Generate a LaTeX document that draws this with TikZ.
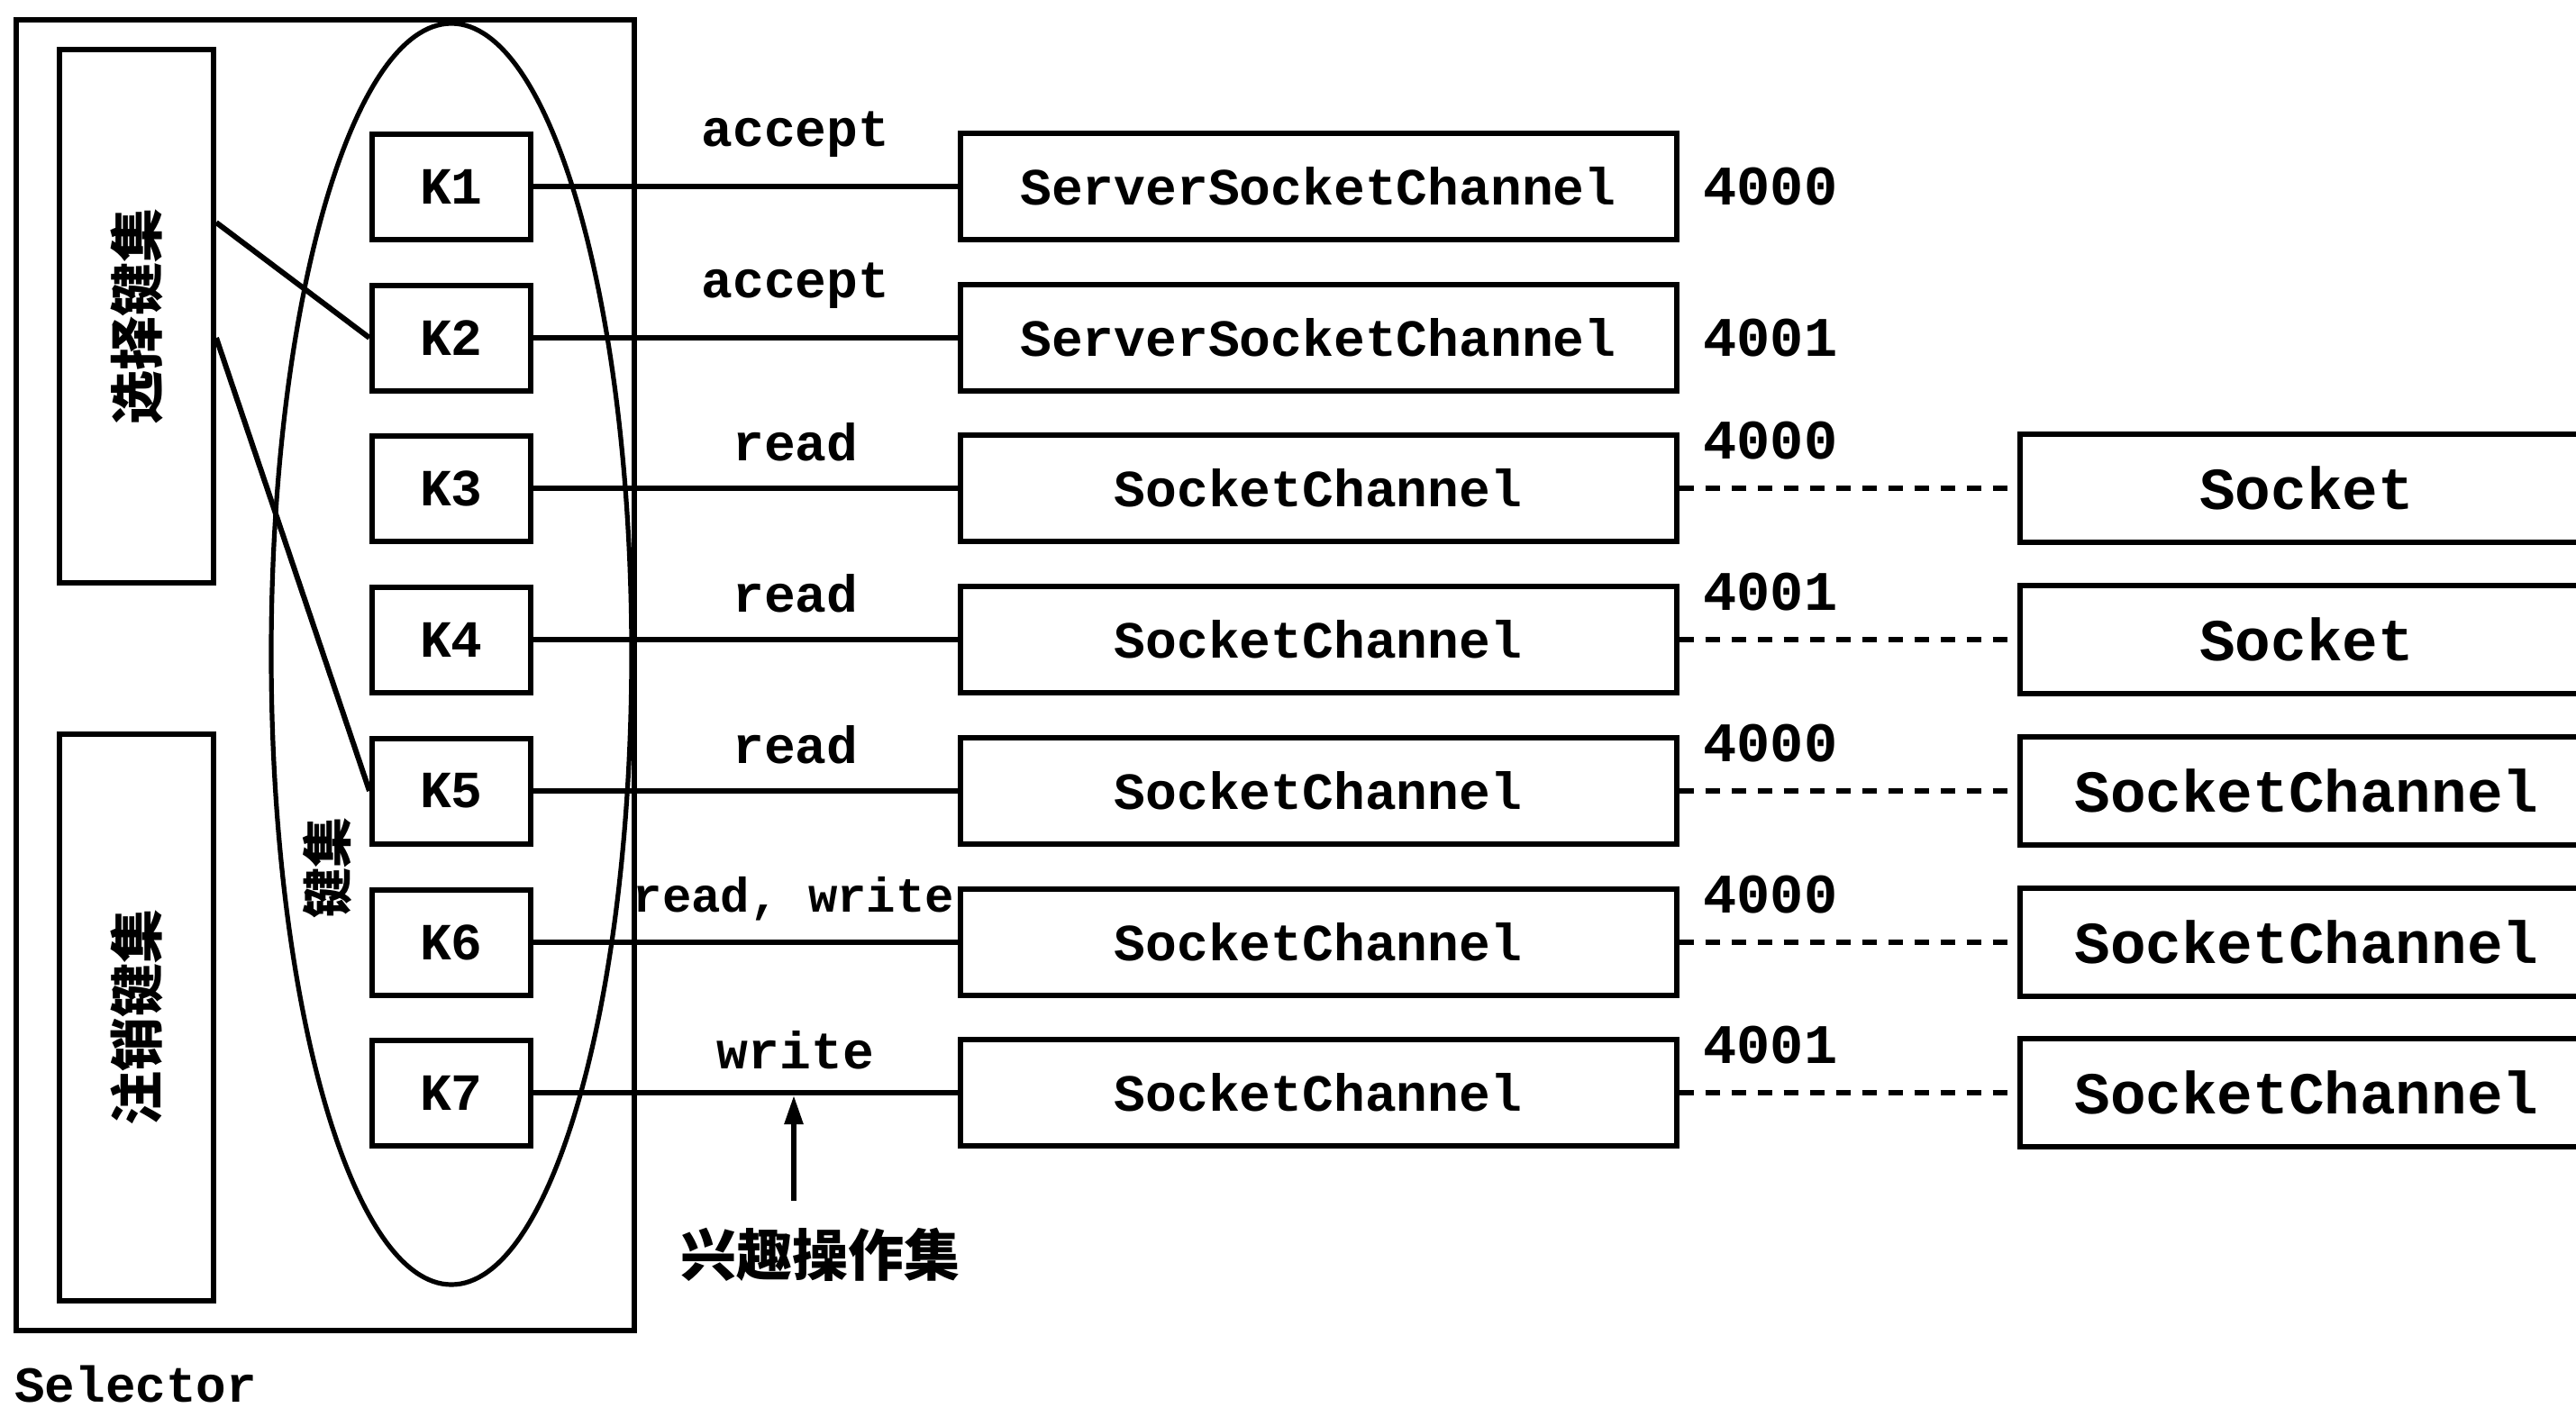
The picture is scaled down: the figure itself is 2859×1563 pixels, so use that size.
\documentclass[tikz,border=0pt]{standalone}
\usepackage{fontspec}
\usepackage{graphicx}
\setmonofont{Liberation Mono}
\newfontfamily\cjk{Noto Sans CJK SC}
\usetikzlibrary{shapes.geometric,arrows.meta}
\begin{document}
\begin{tikzpicture}[x=0.5pt,y=-0.5pt,
  box/.style={draw, line width=3pt, inner sep=0pt, font=\ttfamily\bfseries\fontsize{29}{29}\selectfont},
  kbox/.style={box, minimum width=88pt, minimum height=58.5pt},
  chbox/.style={box, minimum width=397.5pt, minimum height=59pt},
  rbox/.style={box, minimum width=318pt, minimum height=60pt, font=\ttfamily\bfseries\fontsize{33}{33}\selectfont},
  setbox/.style={box, minimum width=85.5pt, font=\cjk\bfseries\fontsize{30}{30}\selectfont},
  chanlink/.style={line width=2.8pt},
  dotlink/.style={line width=2.6pt, dash pattern=on 8pt off 6.5pt},
  oplab/.style={font=\ttfamily\bfseries\fontsize{29}{29}\selectfont, inner sep=0pt, anchor=base},
  portlab/.style={font=\ttfamily\bfseries\fontsize{31}{31}\selectfont, inner sep=0pt, anchor=base west},
]
\clip (0,0) rectangle (2859,1563);
\fill[white] (0,0) rectangle (2859,1563);

% Selector outer box and inner sets
\node[box, minimum width=343pt, minimum height=727.5pt] (sel) at (361,749.5) {};
\node[setbox, minimum height=296pt] (selset) at (151.5,351) {\rotatebox{90}{选择键集}};
\node[setbox, minimum height=314.5pt] (cancelset) at (151.5,1129.5) {\rotatebox{90}{注销键集}};
\node[ellipse, draw, line width=2.6pt, minimum width=200pt, minimum height=700pt, inner sep=0pt] (keyset) at (501,726) {};
\node[font=\cjk\bfseries\fontsize{28}{28}\selectfont, rotate=90, inner sep=0pt] (keylabel) at (363,963) {键集};
\node[font=\ttfamily\bfseries\fontsize{28}{28}\selectfont, anchor=base west, inner sep=0pt] (sellabel) at (16,1556) {Selector};

% Keys
\foreach \i/\y in {1/207,2/375,3/542,4/710,5/878,6/1046,7/1213}
  \node[kbox] (K\i) at (501,\y) {K\i};

% Channels
\node[chbox] (C1) at (1463,207) {ServerSocketChannel};
\node[chbox] (C2) at (1463,375) {ServerSocketChannel};
\node[chbox] (C3) at (1463,542) {SocketChannel};
\node[chbox] (C4) at (1463,710) {SocketChannel};
\node[chbox] (C5) at (1463,878) {SocketChannel};
\node[chbox] (C6) at (1463,1046) {SocketChannel};
\node[chbox] (C7) at (1463,1213) {SocketChannel};

% Right column
\node[rbox] (R3) at (2560,542) {Socket};
\node[rbox] (R4) at (2560,710) {Socket};
\node[rbox] (R5) at (2560,878) {SocketChannel};
\node[rbox] (R6) at (2560,1046) {SocketChannel};
\node[rbox] (R7) at (2560,1213) {SocketChannel};

% Key -> channel links
\foreach \i in {1,...,7}
  \draw[chanlink] (K\i.east) -- (C\i.west);
\foreach \i in {3,...,7}
  \draw[dotlink] (C\i.east) -- (R\i.west);

% Selected key set links
\draw[chanlink, line width=3pt] ([yshift=52pt]selset.east) -- (K2.west);
\draw[chanlink, line width=3pt] ([yshift=-12pt]selset.east) -- (K5.west);

% Operation labels
\node[oplab] (op1) at (883,162) {accept};
\node[oplab] (op2) at (883,330) {accept};
\node[oplab] (op3) at (883,511) {read};
\node[oplab] (op4) at (883,679) {read};
\node[oplab] (op5) at (883,847) {read};
\node[oplab, font=\ttfamily\bfseries\fontsize{27}{27}\selectfont] (op6) at (881,1012) {read, write};
\node[oplab] (op7) at (883,1186) {write};

% Port labels
\node[portlab] (p1) at (1890,227) {4000};
\node[portlab] (p2) at (1890,395) {4001};
\node[portlab] (p3) at (1890,509) {4000};
\node[portlab] (p4) at (1890,677) {4001};
\node[portlab] (p5) at (1890,845) {4000};
\node[portlab] (p6) at (1890,1013) {4000};
\node[portlab] (p7) at (1890,1180) {4001};

% Interest set arrow
\node[font=\cjk\bfseries\fontsize{31}{31}\selectfont, inner sep=0pt] (interest) at (910,1393) {兴趣操作集};
\coordinate (tip) at (881,1216);
\draw[chanlink, -{Triangle[length=16pt,width=10pt]}, shorten <=15pt] (interest.north -| tip) -- (tip);
\end{tikzpicture}
\end{document}
